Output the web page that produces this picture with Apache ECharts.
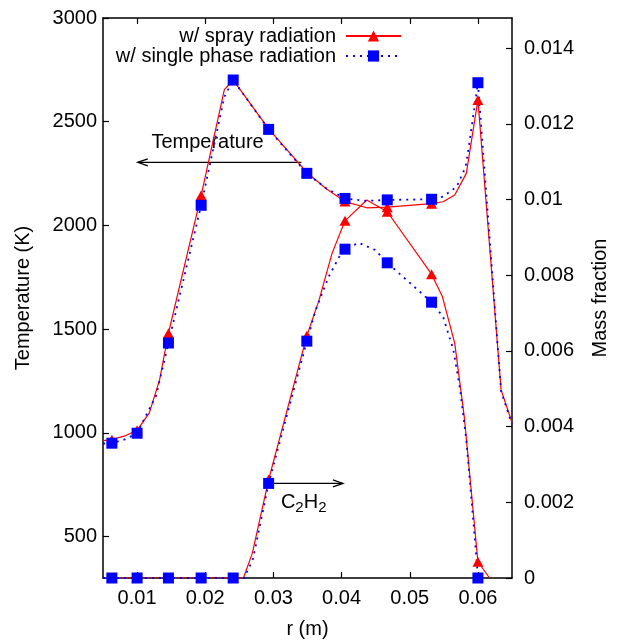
<!DOCTYPE html>
<html><head><meta charset="utf-8">
<script src="https://cdn.jsdelivr.net/npm/echarts@6/dist/echarts.min.js"></script>
<style>html,body{margin:0;padding:0;background:#fff}#c{width:618px;height:644px}</style>
</head><body><div id="c"></div>
<script>
// marker (symbol) locations along r
const markerX = [0.0063,0.0100,0.0146,0.0194,0.0241,0.0293,0.0349,0.0405,0.0467,0.0532,0.0600];

// Temperature, w/ spray radiation
const tSprayX = [0.0050,0.0063,0.0082,0.0100,0.0118,0.0133,0.0146,0.0194,0.0228,0.0241,0.0293,0.0349,0.0377,0.0405,0.0437,0.0467,0.0532,0.0549,0.0566,0.0583,0.0600,0.0634,0.0650];
const tSprayY = [962,967,985,1012,1096,1255,1480,2145,2655,2700,2465,2255,2178,2115,2085,2088,2105,2114,2147,2251,2605,1207,1050];

// Temperature, w/ single phase radiation
const tSingleX = [0.0050,0.0063,0.0082,0.0100,0.0128,0.0146,0.0194,0.0228,0.0241,0.0293,0.0349,0.0377,0.0405,0.0437,0.0467,0.0532,0.0549,0.0569,0.0582,0.0586,0.0600,0.0634,0.0650];
const tSingleY = [948,950,968,998,1180,1433,2097,2620,2701,2463,2251,2180,2130,2118,2123,2126,2139,2187,2283,2364,2688,1200,1040];

// C2H2 mass fraction, w/ spray radiation
const cSprayX = [0.0050,0.0063,0.0100,0.0146,0.0194,0.0241,0.0256,0.0269,0.0293,0.0349,0.0367,0.0386,0.0405,0.0437,0.0467,0.0532,0.0548,0.0566,0.0580,0.0600,0.0617];
const cSprayY = [0,0,0,0,0,0,0,0.00065,0.0026,0.0064,0.00735,0.00858,0.00944,0.00999,0.00968,0.00803,0.00743,0.0062,0.00426,0.00043,0];

// C2H2 mass fraction, w/ single phase radiation
const cSingleX = [0.0050,0.0063,0.0100,0.0146,0.0194,0.0241,0.0257,0.0270,0.0293,0.0349,0.0362,0.0381,0.0398,0.0405,0.0425,0.0449,0.0467,0.0532,0.0549,0.0564,0.0574,0.0583,0.0598,0.0600];
const cSingleY = [0,0,0,0,0,0,0,0.0005,0.0025,0.00626,0.00708,0.00796,0.00854,0.00869,0.00886,0.00867,0.00833,0.00729,0.0069,0.00603,0.00497,0.00365,0.0005,0];

// axis ticks
const xTicks = [0.01,0.02,0.03,0.04,0.05,0.06];
const tTicks = [500,1000,1500,2000,2500,3000];
const cTicks = [0,0.002,0.004,0.006,0.008,0.01,0.012,0.014];

const nameSpray = 'w/ spray radiation';
const nameSingle = 'w/ single phase radiation';

const FONT = 'Liberation Sans, Arial, Helvetica, sans-serif';
const FS = 20;

function build(xs, ys) {
  return xs.map((x, i) => {
    const item = { value: [x, ys[i]] };
    if (!markerX.includes(x)) item.symbol = 'none';
    return item;
  });
}

const chart = echarts.init(document.getElementById('c'), null, { renderer: 'canvas' });

const axisLineStyle = { color: '#000', width: 1.5 };
const txt = { fontFamily: FONT, fontSize: FS, color: '#000' };
const legendTxt = { fontFamily: FONT, fontSize: FS, color: '#000', padding: [0, 5, 0, 0] };

const redStyle = { color: '#ff0000', width: 1.2, type: 'solid' };
const blueStyle = { color: '#0000ff', width: 1.8, type: [2, 5] };

const option = {
  animation: false,
  backgroundColor: '#fff',
  textStyle: { fontFamily: FONT },
  grid: { left: 103, right: 104, top: 18, bottom: 66, containLabel: false },
  legend: [
    { data: [nameSpray], orient: 'vertical', align: 'right', right: 211, top: 21,
      itemWidth: 55, itemHeight: 14, itemGap: 2, textStyle: legendTxt, selectedMode: false },
    { data: [nameSingle], orient: 'vertical', align: 'right', right: 211, top: 41,
      itemWidth: 55, itemHeight: 14, itemGap: 2, textStyle: legendTxt, selectedMode: false }
  ],
  xAxis: [
    { type: 'value', min: 0.005, max: 0.065, position: 'bottom',
      name: 'r (m)', nameLocation: 'middle', nameGap: 41, nameTextStyle: txt,
      axisLine: { show: true, onZero: false, lineStyle: axisLineStyle },
      axisTick: { show: true, inside: true, length: 6, customValues: xTicks, lineStyle: { color: '#000', width: 1.2 } },
      axisLabel: { show: true, customValues: xTicks, margin: 10, ...txt, formatter: v => String(v) },
      splitLine: { show: false } },
    { type: 'value', min: 0.005, max: 0.065, position: 'top',
      axisLine: { show: true, onZero: false, lineStyle: axisLineStyle },
      axisTick: { show: true, inside: true, length: 6, customValues: xTicks, lineStyle: { color: '#000', width: 1.2 } },
      axisLabel: { show: false },
      splitLine: { show: false } }
  ],
  yAxis: [
    { type: 'value', min: 300, max: 3000, position: 'left',
      name: 'Temperature (K)', nameLocation: 'middle', nameRotate: 90, nameGap: 70, nameTextStyle: txt,
      axisLine: { show: true, onZero: false, lineStyle: axisLineStyle },
      axisTick: { show: true, inside: true, length: 6, customValues: tTicks, lineStyle: { color: '#000', width: 1.2 } },
      axisLabel: { show: true, customValues: tTicks, margin: 6, ...txt, formatter: v => String(v) },
      splitLine: { show: false } },
    { type: 'value', min: 0, max: 0.0148, position: 'right',
      name: 'Mass fraction', nameLocation: 'middle', nameRotate: 90, nameGap: 78, nameTextStyle: txt,
      axisLine: { show: true, onZero: false, lineStyle: axisLineStyle },
      axisTick: { show: true, inside: true, length: 6, customValues: cTicks, lineStyle: { color: '#000', width: 1.2 } },
      axisLabel: { show: true, customValues: cTicks, margin: 12, ...txt, formatter: v => String(v) },
      splitLine: { show: false } }
  ],
  series: [
    { name: nameSpray, type: 'line', xAxisIndex: 0, yAxisIndex: 0, data: build(tSprayX, tSprayY),
      symbol: 'triangle', symbolSize: [11, 10], showAllSymbol: true,
      itemStyle: { color: '#ff0000' }, lineStyle: redStyle, emphasis: { disabled: true } },
    { name: nameSpray, type: 'line', xAxisIndex: 0, yAxisIndex: 1, data: build(cSprayX, cSprayY),
      symbol: 'triangle', symbolSize: [11, 10], showAllSymbol: true,
      itemStyle: { color: '#ff0000' }, lineStyle: redStyle, emphasis: { disabled: true } },
    { name: nameSingle, type: 'line', xAxisIndex: 0, yAxisIndex: 0, data: build(tSingleX, tSingleY),
      symbol: 'rect', symbolSize: 11, showAllSymbol: true,
      itemStyle: { color: '#0000ff' }, lineStyle: blueStyle, emphasis: { disabled: true } },
    { name: nameSingle, type: 'line', xAxisIndex: 0, yAxisIndex: 1, data: build(cSingleX, cSingleY),
      symbol: 'rect', symbolSize: 11, showAllSymbol: true,
      itemStyle: { color: '#0000ff' }, lineStyle: blueStyle, emphasis: { disabled: true } }
  ]
};
chart.setOption(option);

// annotations (data coordinates)
const tempArrow = [[0.0341, 2304], [0.0101, 2304]];
const tempLabel = [0.0121, 2400];
const c2h2Arrow = [[0.0293, 0.0025], [0.0402, 0.0025]];
const c2h2Label = [0.0311, 0.0020];

function px(pt, yi) { return chart.convertToPixel({ xAxisIndex: 0, yAxisIndex: yi }, pt); }
function arrow(a, b) {
  const dir = Math.sign(b[0] - a[0]);
  return [
    { type: 'line', shape: { x1: a[0], y1: a[1], x2: b[0], y2: b[1] }, style: { stroke: '#000', lineWidth: 1.3 } },
    { type: 'polyline', shape: { points: [[b[0] - dir * 10, b[1] - 3.5], [b[0], b[1]], [b[0] - dir * 10, b[1] + 3.5]] },
      style: { stroke: '#000', fill: null, lineWidth: 1.3 } }
  ];
}
const ta = tempArrow.map(p => px(p, 0));
const ca = c2h2Arrow.map(p => px(p, 1));
const tl = px(tempLabel, 0);
const cl = px(c2h2Label, 1);
chart.setOption({
  graphic: [
    ...arrow(ta[0], ta[1]),
    ...arrow(ca[0], ca[1]),
    { type: 'text', x: tl[0], y: tl[1], style: { text: 'Temperature', fontFamily: FONT, fontSize: FS, fill: '#000', verticalAlign: 'middle', align: 'left' } },
    { type: 'text', x: cl[0], y: cl[1], style: { text: '{n|C}{s|2}{n|H}{s|2}', fill: '#000', verticalAlign: 'middle', align: 'left',
      rich: { n: { fontFamily: FONT, fontSize: FS, lineHeight: 26, verticalAlign: 'middle' },
              s: { fontFamily: FONT, fontSize: 15, lineHeight: 26, verticalAlign: 'bottom', padding: [9, 0, 0, 0] } } } }
  ]
});
</script></body></html>
